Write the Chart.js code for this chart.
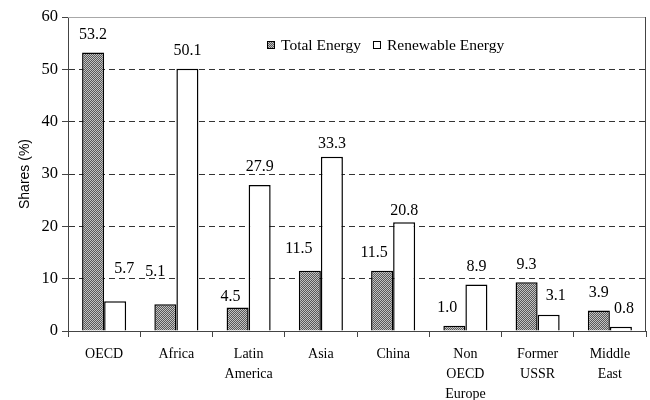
<!DOCTYPE html>
<html>
<head>
<meta charset="utf-8">
<script src="https://cdn.jsdelivr.net/npm/chart.js@4.4.1/dist/chart.umd.min.js"></script>
<style>
  html, body { margin: 0; padding: 0; background: #fff; }
  canvas { display: block; }
</style>
</head>
<body>
<canvas id="c" width="650" height="400"></canvas>
<script>
// Regional shares of world total and renewable energy supply (%)
const regions = [["OECD"], ["Africa"], ["Latin", "America"], ["Asia"], ["China"],
                 ["Non", "OECD", "Europe"], ["Former", "USSR"], ["Middle", "East"]];
const totalEnergy     = [53.2, 5.1, 4.5, 11.5, 11.5, 1.0, 9.3, 3.9];
const renewableEnergy = [5.7, 50.1, 27.9, 33.3, 20.8, 8.9, 3.1, 0.8];
const yTicks = [0, 10, 20, 30, 40, 50, 60];
const seriesNames = ["Total Energy", "Renewable Energy"];

// Hand-placed value labels: pixel shifts [dx, dy] from the default spot above each bar
const totalLabelShift = [[0, 0], [-10, -15], [-7, 7], [-11, -4], [-8, 0], [-7, 0], [0, 0], [0, 0]];
const renewLabelShift = [[9, -14], [0, 0], [0, 0], [0, 5], [0, 7], [0, 0], [7, -1], [3, 0]];

const SERIF = '"Liberation Serif", "Times New Roman", serif';
const SANS = '"Liberation Sans", Arial, sans-serif';

// Fine checkered fill for the total-energy bars
function checkerPattern() {
  const p = document.createElement('canvas');
  p.width = 4; p.height = 4;
  const g = p.getContext('2d');
  for (let i = 0; i < 4; i++) {
    for (let j = 0; j < 4; j++) {
      g.fillStyle = (i + j) % 2 ? '#585858' : '#c2c2c2';
      g.fillRect(i, j, 1, 1);
    }
  }
  return document.getElementById('c').getContext('2d').createPattern(p, 'repeat');
}
const hatch = checkerPattern();

// Frame around the plot: grey top edge, dark right edge
const plotFrame = {
  id: 'plotFrame',
  beforeDatasetsDraw(chart) {
    const { ctx, chartArea: a } = chart;
    ctx.save();
    ctx.lineWidth = 1;
    ctx.strokeStyle = '#a8a8a8';
    ctx.beginPath();
    ctx.moveTo(a.left, Math.round(a.top) + 0.5);
    ctx.lineTo(a.right, Math.round(a.top) + 0.5);
    ctx.stroke();
    ctx.strokeStyle = '#444';
    ctx.beginPath();
    ctx.moveTo(Math.round(a.right) - 0.5, a.top);
    ctx.lineTo(Math.round(a.right) - 0.5, a.bottom);
    ctx.stroke();
    ctx.restore();
  }
};

// Numeric labels above bars
const valueLabels = {
  id: 'valueLabels',
  afterDatasetsDraw(chart) {
    const { ctx } = chart;
    ctx.save();
    ctx.font = '16px ' + SERIF;
    ctx.fillStyle = '#000';
    ctx.textAlign = 'center';
    ctx.textBaseline = 'middle';
    chart.data.datasets.forEach((ds, di) => {
      const shifts = di === 0 ? totalLabelShift : renewLabelShift;
      chart.getDatasetMeta(di).data.forEach((bar, i) => {
        const [dx, dy] = shifts[i];
        ctx.fillText(ds.data[i].toFixed(1), bar.x + dx, bar.y - 18 + dy);
      });
    });
    ctx.restore();
  }
};

// Legend inside the plot area
const insideLegend = {
  id: 'insideLegend',
  afterDraw(chart) {
    const { ctx, chartArea: a } = chart;
    ctx.save();
    ctx.font = '15.5px ' + SERIF;
    ctx.textBaseline = 'middle';
    ctx.fillStyle = '#000';
    let x = a.left + 199;
    const y = a.top + 28;
    chart.data.datasets.forEach((ds) => {
      ctx.fillStyle = ds.backgroundColor;
      ctx.fillRect(x, y - 4, 8, 8);
      ctx.lineWidth = 1;
      ctx.strokeStyle = '#000';
      ctx.strokeRect(x + 0.5, y - 3.5, 7, 7);
      ctx.fillStyle = '#000';
      ctx.fillText(ds.label, x + 14, y + 1);
      x += 14 + ctx.measureText(ds.label).width + 12;
    });
    ctx.restore();
  }
};

new Chart(document.getElementById('c'), {
  type: 'bar',
  data: {
    labels: regions,
    datasets: [
      {
        label: seriesNames[0],
        data: totalEnergy,
        backgroundColor: hatch,
        borderColor: '#000',
        borderWidth: 1.5,
        categoryPercentage: 0.61,
        barPercentage: 1.0
      },
      {
        label: seriesNames[1],
        data: renewableEnergy,
        backgroundColor: '#ffffff',
        borderColor: '#000',
        borderWidth: 1.5,
        categoryPercentage: 0.61,
        barPercentage: 1.0
      }
    ]
  },
  options: {
    responsive: false,
    animation: false,
    devicePixelRatio: 1,
    layout: { padding: { top: 17, right: 4, left: 0, bottom: 0 } },
    plugins: {
      legend: { display: false },
      tooltip: { enabled: false }
    },
    scales: {
      x: {
        offset: true,
        grid: {
          display: true,
          drawOnChartArea: false,
          drawTicks: true,
          tickLength: 6,
          tickColor: '#444',
          offset: true
        },
        border: { display: true, color: '#444', width: 1 },
        ticks: {
          color: '#000',
          font: { family: SERIF, size: 14, lineHeight: 1.45 },
          padding: 7,
          maxRotation: 0,
          autoSkip: false
        },
        afterFit(scale) { scale.height = 69; }
      },
      y: {
        min: 0,
        max: 60,
        afterBuildTicks(scale) { scale.ticks = yTicks.map(v => ({ value: v })); },
        grid: {
          color: (c) => (c.tick && (c.tick.value === 0 || c.tick.value === 60)) ? 'rgba(0,0,0,0)' : '#333',
          lineWidth: 1,
          drawTicks: true,
          tickLength: 6,
          tickColor: '#444',
          tickBorderDash: []
        },
        border: { display: true, color: '#444', width: 1, dash: [6, 4] },
        ticks: {
          color: '#000',
          font: { family: SERIF, size: 16.5 },
          padding: 4
        },
        title: {
          display: true,
          text: 'Shares (%)',
          color: '#000',
          font: { family: SANS, size: 14 },
          padding: { top: 17, bottom: 0 }
        },
        afterFit(scale) { scale.width = 68; }
      }
    }
  },
  plugins: [plotFrame, valueLabels, insideLegend]
});
</script>
</body>
</html>
